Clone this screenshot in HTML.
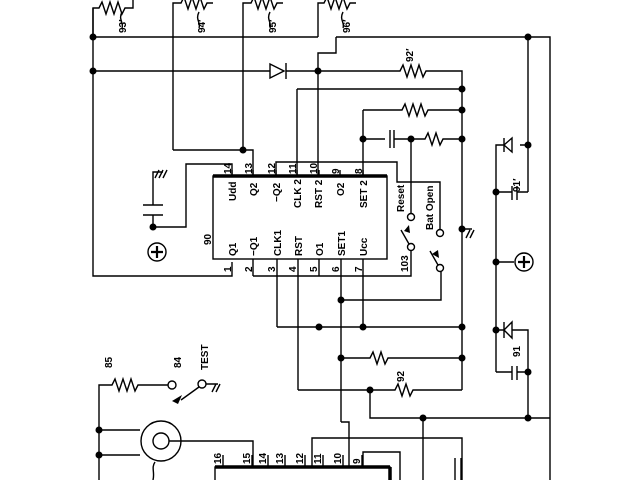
<!DOCTYPE html>
<html><head><style>body{margin:0;background:#fff}svg{display:block}text{font-family:"Liberation Sans",sans-serif;font-weight:bold;font-size:10px}</style></head><body>
<svg width="640" height="480" viewBox="0 0 640 480" xmlns="http://www.w3.org/2000/svg">
<rect width="640" height="480" fill="#fff"/>
<g fill="none" stroke="#000" stroke-width="1.4">
<!-- top resistors -->
<path d="M93 37V8h6l3-6 4 12 4-12 4 12 4-12 4 12 3-6h8V0"/>
<path d="M173 150V3h8l3-6 4 12 4-12 4 12 4-12 4 12 3-6h6"/>
<path d="M243 150V3h8l3-6 4 12 4-12 4 12 4-12 4 12 3-6h6"/>
<path d="M318 37V3h6l3-6 4 12 4-12 4 12 4-12 4 12 3-6h6"/>
<path d="M122 12c-4 8 2 10 0 16M199 12c-4 8 2 10 0 16M270 12c-4 8 2 10 0 16M343 12c-4 8 2 10 0 16"/>
<!-- rails -->
<path d="M93 8V276H232V262"/>
<path d="M93 37H318M336 37H550V480M336 37V53H318V71"/>
<path d="M93 71H270M286 71H400l3-6 4 12 4-12 4 12 4-12 4 12 3-6H462V390"/>
<path d="M270 64v14l14-7z" fill="#fff"/><path d="M286 63v16"/>
<path d="M318 71V176"/>
<path d="M297 89H462M297 89V176"/>
<path d="M363 110H402l3-6 4 12 4-12 4 12 4-12 4 12 3-6H462M363 110V176"/>
<path d="M363 139H385M390 130v18M394 130v18M394 139H425l3-6 4 12 4-12 4 12 3-6H462"/>
<path d="M411 139V213"/>
<path d="M253 176V150H173M276 176V162H397V182H440V229"/>
<path d="M232 176V164H186V227H153V215M153 205V172h10M143 215h20M143 205h20M155 178l4-8M159 178l4-8M163 178l4-8"/>
<path d="M462 229h10M466 238l4-8M470 238l4-8"/>
<!-- IC 90 -->
<rect x="213" y="176" width="174" height="83" stroke-width="1.4"/>
<path d="M213 176H387" stroke-width="3.5"/>
<path d="M232 170V176M253 170V176M276 170V176M297 170V176M319 170V176M340 170V176M363 170V176"/>
<path d="M253 259V276M277 259V327M298 259V390M319 259V276M341 259V422M363 259V327M253 276H411V247"/>
<path d="M277 327H462M341 300H441V268M341 358H370l3-6 4 12 4-12 4 12 3-6H462"/>
<path d="M298 390H395l3-6 4 12 4-12 4 12 3-6H462M370 390V418H550M423 418V480"/>
<path d="M341 422H349V467"/>
<!-- switches -->
<circle cx="411" cy="217" r="3.5" fill="#fff"/><circle cx="411" cy="247" r="3.5" fill="#fff"/>
<circle cx="440" cy="233" r="3.5" fill="#fff"/><circle cx="440" cy="268" r="3.5" fill="#fff"/>
<path d="M409 244l-8-14M438 265l-8-14"/>
<!-- right side -->
<path d="M528 37V192M528 145H520M504 145H496V372M512 138l-8 7 8 7zM504 138v14"/>
<path d="M496 192H512M512 186v14M517 186v14M517 192H528"/>
<path d="M496 262H514M496 330h8M504 322v16M512 322l-8 8 8 8zM512 330H528V418M496 372H512M512 366v14M517 366v14M517 372H528"/>
<circle cx="157" cy="252" r="9"/><circle cx="524" cy="262" r="9"/>
<path d="M157 246v12M151 252h12M524 256v12M518 262h12" stroke-width="2.2"/>
<!-- bottom left -->
<path d="M99 480V385H112l3-6 4 12 4-12 4 12 4-12 4 12 3-6H172M99 430H140M99 455H140"/>
<circle cx="161" cy="441" r="20"/><circle cx="161" cy="441" r="8"/>
<path d="M169 441H253V467"/>
<circle cx="172" cy="385" r="4" fill="#fff"/><circle cx="202" cy="384" r="4" fill="#fff"/>
<path d="M206 384h12M212 392l4-8M216 392l4-8M199 387l-18 13M155 462c-4 6 0 10-2 18"/>
<path d="M312 467V438H462V480M363 467V452H400V480M455 458v22M461 458v22"/>
<rect x="215" y="467" width="175" height="20"/>
<path d="M215 467H390M390 467V480" stroke-width="3.5"/>
<path d="M223 455V467M252 455V467M268 455V467M285 455V467M305 455V467M323 455V467M343 455V467M362 455V467"/>
</g>
<path d="M172 401l10-6-4 9z M404 231l5-6 1 8z M432 254l6-4 1 8z" fill="#000"/>
<g fill="#000">
<circle cx="93" cy="37" r="3.5"/><circle cx="93" cy="71" r="3.5"/><circle cx="318" cy="71" r="3.5"/>
<circle cx="528" cy="37" r="3.5"/><circle cx="462" cy="89" r="3.5"/><circle cx="462" cy="110" r="3.5"/>
<circle cx="462" cy="139" r="3.5"/><circle cx="363" cy="139" r="3.5"/><circle cx="411" cy="139" r="3.5"/>
<circle cx="243" cy="150" r="3.5"/><circle cx="153" cy="227" r="3.5"/><circle cx="462" cy="229" r="3.5"/>
<circle cx="528" cy="145" r="3.5"/><circle cx="496" cy="192" r="3.5"/><circle cx="496" cy="262" r="3.5"/>
<circle cx="496" cy="330" r="3.5"/><circle cx="528" cy="372" r="3.5"/><circle cx="528" cy="418" r="3.5"/>
<circle cx="341" cy="300" r="3.5"/><circle cx="319" cy="327" r="3.5"/><circle cx="363" cy="327" r="3.5"/>
<circle cx="462" cy="327" r="3.5"/><circle cx="341" cy="358" r="3.5"/><circle cx="462" cy="358" r="3.5"/>
<circle cx="370" cy="390" r="3.5"/><circle cx="423" cy="418" r="3.5"/><circle cx="99" cy="430" r="3.5"/><circle cx="99" cy="455" r="3.5"/>
</g>
<g fill="#000">
<text transform="translate(126,33) rotate(-90)">93′</text>
<text transform="translate(205,33) rotate(-90)">94′</text>
<text transform="translate(276,33) rotate(-90)">95′</text>
<text transform="translate(350,33) rotate(-90)">96′</text>
<text transform="translate(413,62) rotate(-90)">92′</text>
<text transform="translate(520,192) rotate(-90)">91′</text>
<text transform="translate(520,357) rotate(-90)">91</text>
<text transform="translate(404,382) rotate(-90)">92</text>
<text transform="translate(112,368) rotate(-90)">85</text>
<text transform="translate(181,368) rotate(-90)">84</text>
<text transform="translate(208,370) rotate(-90)">TEST</text>
<text transform="translate(211,245) rotate(-90)">90</text>
<text transform="translate(408,272) rotate(-90)">103</text>
<text transform="translate(404,212) rotate(-90)">Reset</text>
<text transform="translate(433,230) rotate(-90)">Bat Open</text>
<text transform="translate(236,201) rotate(-90)">Udd</text>
<text transform="translate(257,196) rotate(-90)">Q2</text>
<text transform="translate(280,202) rotate(-90)">−Q2</text>
<text transform="translate(301,208) rotate(-90)">CLK 2</text>
<text transform="translate(322,208) rotate(-90)">RST 2</text>
<text transform="translate(344,196) rotate(-90)">O2</text>
<text transform="translate(367,208) rotate(-90)">SET 2</text>
<text transform="translate(236,256) rotate(-90)">Q1</text>
<text transform="translate(257,256) rotate(-90)">−Q1</text>
<text transform="translate(281,256) rotate(-90)">CLK1</text>
<text transform="translate(302,256) rotate(-90)">RST</text>
<text transform="translate(323,256) rotate(-90)">O1</text>
<text transform="translate(345,256) rotate(-90)">SET1</text>
<text transform="translate(367,256) rotate(-90)">Ucc</text>
<text transform="translate(231,174) rotate(-90)">14</text><text transform="translate(252,174) rotate(-90)">13</text>
<text transform="translate(275,174) rotate(-90)">12</text><text transform="translate(296,174) rotate(-90)">11</text>
<text transform="translate(317,174) rotate(-90)">10</text><text transform="translate(339,174) rotate(-90)">9</text>
<text transform="translate(362,174) rotate(-90)">8</text>
<text transform="translate(231,272) rotate(-90)">1</text><text transform="translate(252,272) rotate(-90)">2</text>
<text transform="translate(275,272) rotate(-90)">3</text><text transform="translate(296,272) rotate(-90)">4</text>
<text transform="translate(317,272) rotate(-90)">5</text><text transform="translate(339,272) rotate(-90)">6</text>
<text transform="translate(362,272) rotate(-90)">7</text>
<text transform="translate(221,464) rotate(-90)">16</text><text transform="translate(250,464) rotate(-90)">15</text>
<text transform="translate(266,464) rotate(-90)">14</text><text transform="translate(283,464) rotate(-90)">13</text>
<text transform="translate(303,464) rotate(-90)">12</text><text transform="translate(321,464) rotate(-90)">11</text>
<text transform="translate(341,464) rotate(-90)">10</text><text transform="translate(360,464) rotate(-90)">9</text>
</g>
</svg>
</body></html>
